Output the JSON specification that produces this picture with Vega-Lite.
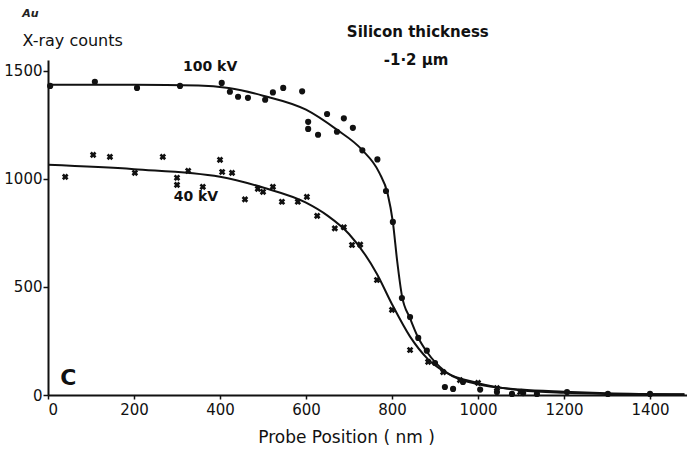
{
  "$schema": "https://vega.github.io/schema/vega-lite/v6.json",
  "width": 639,
  "height": 335,
  "autosize": {"type": "none"},
  "padding": {"left": 48, "top": 60, "right": 0, "bottom": 57},
  "background": "white",
  "config": {"view": {"stroke": null}, "axis": {"grid": false, "domainColor": "#111", "domainWidth": 2, "tickColor": "#111", "tickWidth": 1.5, "labelColor": "#111", "labelFont": "DejaVu Sans", "labelFontSize": 15, "titleFont": "DejaVu Sans", "titleColor": "#111", "titleFontWeight": "normal", "titleFontSize": 16}},
  "datasets": {
    "pts100": [
      {"x": 5, "y": 1430}, {"x": 109, "y": 1449}, {"x": 207, "y": 1421}, {"x": 307, "y": 1430}, {"x": 404, "y": 1444},
      {"x": 423, "y": 1403}, {"x": 442, "y": 1380}, {"x": 465, "y": 1375}, {"x": 505, "y": 1366}, {"x": 523, "y": 1400},
      {"x": 547, "y": 1421}, {"x": 591, "y": 1405}, {"x": 605, "y": 1264}, {"x": 605, "y": 1231}, {"x": 628, "y": 1204},
      {"x": 649, "y": 1300}, {"x": 672, "y": 1218}, {"x": 688, "y": 1280}, {"x": 709, "y": 1236}, {"x": 731, "y": 1132},
      {"x": 766, "y": 1090}, {"x": 786, "y": 944}, {"x": 802, "y": 801}, {"x": 823, "y": 449}, {"x": 842, "y": 361},
      {"x": 861, "y": 264}, {"x": 881, "y": 205}, {"x": 900, "y": 148}, {"x": 923, "y": 37}, {"x": 942, "y": 28},
      {"x": 965, "y": 60}, {"x": 1005, "y": 25}, {"x": 1044, "y": 14}, {"x": 1079, "y": 5}, {"x": 1105, "y": 9},
      {"x": 1137, "y": 5}, {"x": 1207, "y": 14}, {"x": 1302, "y": 5}, {"x": 1400, "y": 5}
    ],
    "pts40": [
      {"x": 40, "y": 1009}, {"x": 105, "y": 1111}, {"x": 144, "y": 1102}, {"x": 202, "y": 1028}, {"x": 267, "y": 1102},
      {"x": 300, "y": 1005}, {"x": 300, "y": 972}, {"x": 326, "y": 1037}, {"x": 360, "y": 963}, {"x": 400, "y": 1088},
      {"x": 405, "y": 1032}, {"x": 428, "y": 1028}, {"x": 458, "y": 905}, {"x": 488, "y": 954}, {"x": 500, "y": 940},
      {"x": 523, "y": 963}, {"x": 544, "y": 894}, {"x": 581, "y": 894}, {"x": 602, "y": 917}, {"x": 626, "y": 829},
      {"x": 667, "y": 771}, {"x": 688, "y": 776}, {"x": 707, "y": 694}, {"x": 726, "y": 696}, {"x": 765, "y": 532},
      {"x": 800, "y": 394}, {"x": 842, "y": 208}, {"x": 884, "y": 153}, {"x": 919, "y": 106}, {"x": 958, "y": 69},
      {"x": 1000, "y": 56}, {"x": 1044, "y": 32}, {"x": 1098, "y": 14}
    ],
    "fit100": [
      {"x": 0, "y": 1435}, {"x": 200, "y": 1435}, {"x": 350, "y": 1432}, {"x": 420, "y": 1420}, {"x": 500, "y": 1385},
      {"x": 600, "y": 1320}, {"x": 670, "y": 1230}, {"x": 730, "y": 1135}, {"x": 770, "y": 1030}, {"x": 790, "y": 930},
      {"x": 802, "y": 800}, {"x": 812, "y": 620}, {"x": 823, "y": 460}, {"x": 842, "y": 355}, {"x": 861, "y": 265},
      {"x": 881, "y": 200}, {"x": 923, "y": 110}, {"x": 1000, "y": 50}, {"x": 1100, "y": 25}, {"x": 1200, "y": 15},
      {"x": 1300, "y": 8}, {"x": 1480, "y": 3}
    ],
    "fit40": [
      {"x": 0, "y": 1065}, {"x": 200, "y": 1045}, {"x": 400, "y": 1010}, {"x": 500, "y": 960}, {"x": 600, "y": 890},
      {"x": 650, "y": 830}, {"x": 700, "y": 745}, {"x": 765, "y": 560}, {"x": 800, "y": 420}, {"x": 842, "y": 270},
      {"x": 884, "y": 165}, {"x": 920, "y": 110}, {"x": 1000, "y": 55}, {"x": 1100, "y": 22}, {"x": 1200, "y": 10},
      {"x": 1300, "y": 5}, {"x": 1480, "y": 2}
    ],
    "labels": [
      {"x": 377, "y": 1518, "t": "100 kV", "s": 14},
      {"x": 344, "y": 917, "t": "40 kV", "s": 14},
      {"x": 860, "y": 1680, "t": "Silicon thickness", "s": 15},
      {"x": 856, "y": 1551, "t": "-1·2 µm", "s": 15},
      {"x": 47, "y": 79, "t": "C", "s": 22}
    ],
    "au": [
      {"x": -60, "y": 1764, "t": "Au"}
    ]
  },
  "layer": [
    {
      "data": {"name": "fit100"},
      "mark": {"type": "line", "color": "#111", "strokeWidth": 2, "interpolate": "monotone", "clip": false},
      "encoding": {
        "x": {"field": "x", "type": "quantitative", "scale": {"domain": [0, 1486], "nice": false}, "axis": {"values": [0, 200, 400, 600, 800, 1000, 1200, 1400], "format": "d", "tickSize": 4, "labelPadding": 3, "title": "Probe Position ( nm )", "titleX": 298, "titlePadding": 12, "titleFontSize": 17}},
        "y": {"field": "y", "type": "quantitative", "scale": {"domain": [0, 1550], "nice": false}, "axis": {"values": [0, 500, 1000, 1500], "format": "d", "tickSize": 5, "labelPadding": 1, "title": "X-ray counts", "titleAngle": 0, "titleAlign": "left", "titleBaseline": "bottom", "titleX": -26, "titleY": -12}}
      }
    },
    {
      "data": {"name": "fit40"},
      "mark": {"type": "line", "color": "#111", "strokeWidth": 2, "interpolate": "monotone"},
      "encoding": {"x": {"field": "x", "type": "quantitative"}, "y": {"field": "y", "type": "quantitative"}}
    },
    {
      "data": {"name": "pts100"},
      "mark": {"type": "point", "shape": "circle", "filled": true, "color": "#111", "size": 38, "opacity": 1},
      "encoding": {"x": {"field": "x", "type": "quantitative"}, "y": {"field": "y", "type": "quantitative"}}
    },
    {
      "data": {"name": "pts40"},
      "mark": {"type": "point", "shape": "cross", "angle": 45, "filled": true, "color": "#111", "size": 45, "opacity": 1},
      "encoding": {"x": {"field": "x", "type": "quantitative"}, "y": {"field": "y", "type": "quantitative"}}
    },
    {
      "data": {"name": "labels"},
      "mark": {"type": "text", "color": "#111", "font": "DejaVu Sans", "fontWeight": "bold", "align": "center", "baseline": "middle", "clip": false},
      "encoding": {
        "x": {"field": "x", "type": "quantitative"},
        "y": {"field": "y", "type": "quantitative"},
        "text": {"field": "t"},
        "size": {"field": "s", "type": "quantitative", "scale": null}
      }
    },
    {
      "data": {"name": "au"},
      "mark": {"type": "text", "color": "#222", "font": "DejaVu Sans", "fontWeight": "bold", "fontSize": 11, "fontStyle": "italic", "align": "left", "baseline": "middle", "clip": false},
      "encoding": {
        "x": {"field": "x", "type": "quantitative"},
        "y": {"field": "y", "type": "quantitative"},
        "text": {"field": "t"}
      }
    }
  ]
}
